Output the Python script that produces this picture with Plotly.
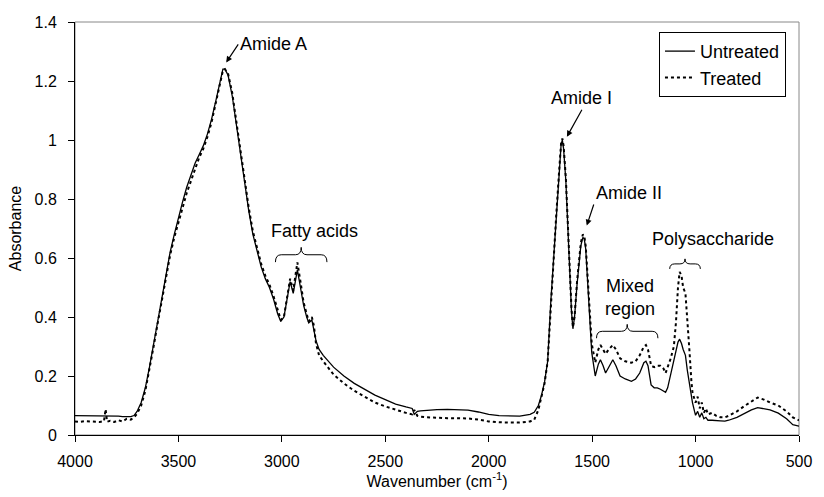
import plotly.graph_objects as go

# ---------------- data ----------------
wavenumber = [
    4000, 3980, 3950, 3920, 3900, 3880, 3860, 3852, 3845, 3830,
    3810, 3790, 3770, 3750, 3730, 3715, 3700, 3680, 3660, 3640,
    3620, 3600, 3580, 3560, 3540, 3520, 3500, 3480, 3460, 3440,
    3420, 3400, 3380, 3360, 3340, 3320, 3300, 3285, 3275, 3260,
    3240, 3220, 3200, 3180, 3160, 3140, 3120, 3100, 3080, 3060,
    3040, 3020, 3005, 2990, 2975, 2960, 2945, 2925, 2910, 2895,
    2880, 2870, 2855, 2845, 2835, 2820, 2800, 2750, 2700, 2650,
    2600, 2550, 2500, 2450, 2400, 2370, 2360, 2345, 2330, 2300,
    2250, 2200, 2150, 2100, 2050, 2000, 1950, 1900, 1850, 1800,
    1780, 1760, 1745, 1730, 1715, 1700, 1685, 1674, 1660, 1650,
    1644, 1638, 1627, 1612, 1600, 1593, 1585, 1573, 1555, 1545,
    1538, 1531, 1517, 1502, 1485, 1470, 1460, 1447, 1435, 1420,
    1400, 1385, 1365, 1340, 1310, 1290, 1270, 1250, 1240, 1230,
    1215, 1200, 1185, 1170, 1155, 1145, 1135, 1120, 1105, 1095,
    1085, 1077, 1068, 1060, 1049, 1040, 1030, 1020, 1015, 1005,
    1000, 990, 980, 970, 960, 950, 940, 920, 900, 880,
    858, 840, 800, 760, 730, 700, 670, 640, 600, 560,
    530, 510, 500,
]

untreated = [
    .066, .066, .065, .066, .065, .066, .065, .066, .065, .066,
    .065, .064, .062, .063, .062, .066, .080, .110, .160, .230,
    .31, .39, .47, .55, .62, .68, .74, .79, .84, .88,
    .92, .95, .98, 1.02, 1.07, 1.13, 1.20, 1.24, 1.24, 1.22,
    1.15, 1.05, .95, .85, .76, .68, .62, .57, .53, .50,
    .46, .41, .385, .40, .46, .52, .48, .56, .50, .44,
    .40, .38, .39, .36, .32, .29, .27, .23, .20, .175,
    .155, .135, .12, .105, .095, .09, .07, .08, .082, .084,
    .086, .087, .086, .084, .078, .07, .066, .064, .064, .07,
    .077, .10, .134, .18, .25, .45, .62, .75, .90, .985,
    1.0, .97, .86, .58, .42, .36, .40, .51, .64, .67,
    .665, .63, .46, .28, .20, .24, .255, .235, .21, .23,
    .255, .235, .20, .19, .182, .19, .21, .245, .25, .235,
    .17, .16, .16, .155, .15, .145, .16, .21, .25, .29,
    .315, .325, .31, .29, .27, .22, .17, .12, .11, .08,
    .067, .08, .06, .075, .055, .06, .05, .05, .05, .048,
    .047, .05, .06, .075, .085, .093, .09, .085, .074, .055,
    .035, .03, .03,
]

treated = [
    .046, .044, .047, .045, .046, .044, .047, .087, .045, .048,
    .044, .050, .046, .055, .052, .060, .072, .100, .150, .220,
    .30, .38, .46, .54, .61, .67, .72, .77, .82, .86,
    .90, .94, .97, 1.01, 1.06, 1.12, 1.19, 1.235, 1.24, 1.225,
    1.16, 1.06, .96, .86, .77, .69, .63, .58, .54, .51,
    .47, .42, .39, .40, .47, .53, .49, .585, .52, .45,
    .41, .385, .40, .37, .31, .27, .25, .205, .175, .15,
    .13, .11, .097, .085, .075, .07, .085, .065, .062, .06,
    .058, .057, .057, .056, .052, .046, .043, .042, .042, .046,
    .052, .085, .125, .175, .25, .44, .61, .74, .89, .99,
    1.005, .98, .87, .60, .43, .365, .40, .52, .65, .68,
    .675, .64, .48, .31, .245, .29, .305, .29, .275, .29,
    .305, .29, .26, .25, .245, .25, .27, .30, .305, .29,
    .235, .23, .235, .235, .225, .21, .23, .26, .30, .38,
    .50, .553, .54, .50, .48, .40, .29, .18, .145, .12,
    .11, .13, .09, .11, .075, .09, .07, .075, .065, .06,
    .06, .065, .08, .10, .115, .127, .12, .11, .10, .08,
    .06, .055, .05,
]

series_names = ["Untreated", "Treated"]

# plain labels (data coordinates)
label_text = ["Fatty acids", "Mixed<br>region", "Polysaccharide"]
label_x = [2844, 1316, 915]
label_y = [0.693, 0.465, 0.663]

# labels with arrows: arrow tip (data) and text offset (px)
arrow_text = ["Amide A", "Amide I", "Amide II"]
arrow_x = [3269, 1622, 1526]
arrow_y = [1.263, 1.011, 0.71]
arrow_ax = [12, 15, 7]
arrow_ay = [-18, -27, -21]
arrow_xanchor = ["left", "center", "left"]
arrow_yanchor = ["middle", "bottom", "bottom"]

# braces
brace_left = [3031, 1479, 1125]
brace_right = [2782, 1182, 977]
brace_end_y = [0.586, 0.328, 0.563]
brace_tip_y = [0.636, 0.375, 0.597]

FONT = "Liberation Sans, Arial, sans-serif"

fig = go.Figure()
fig.add_trace(go.Scatter(x=wavenumber, y=untreated, mode="lines", name=series_names[0],
                         line=dict(color="black", width=1.3)))
fig.add_trace(go.Scatter(x=wavenumber, y=treated, mode="lines", name=series_names[1],
                         line=dict(color="black", width=2, dash="dot")))

annotations = []
for t, x, y in zip(label_text, label_x, label_y):
    annotations.append(dict(x=x, y=y, xref="x", yref="y", text=t, showarrow=False,
                            xanchor="center", yanchor="middle",
                            font=dict(size=18, family=FONT, color="black")))
for t, x, y, ax, ay, xa, ya in zip(arrow_text, arrow_x, arrow_y, arrow_ax, arrow_ay,
                                   arrow_xanchor, arrow_yanchor):
    annotations.append(dict(x=x, y=y, xref="x", yref="y", text=t, showarrow=True,
                            ax=ax, ay=ay, xanchor=xa, yanchor=ya,
                            arrowhead=2, arrowsize=1, arrowwidth=1.2, arrowcolor="black",
                            font=dict(size=18, family=FONT, color="black")))

shapes = [dict(type="rect", xref="paper", yref="paper", x0=0, x1=1, y0=0, y1=1,
               line=dict(color="#888888", width=1), layer="below")]
for xl, xr, ye, yt in zip(brace_left, brace_right, brace_end_y, brace_tip_y):
    xc = (xl + xr) / 2
    ym = (ye + yt) / 2
    dx = min(28, abs(xl - xr) / 6)
    path = (f"M {xl},{ye} Q {xl},{ym} {xl - dx},{ym} L {xc + dx},{ym} "
            f"Q {xc},{ym} {xc},{yt} Q {xc},{ym} {xc - dx},{ym} "
            f"L {xr + dx},{ym} Q {xr},{ym} {xr},{ye}")
    shapes.append(dict(type="path", xref="x", yref="y", path=path,
                       line=dict(color="black", width=1)))

fig.update_layout(
    width=824, height=497,
    margin=dict(l=75, r=16, t=22, b=57),
    paper_bgcolor="white", plot_bgcolor="white",
    font=dict(family=FONT, size=16, color="black"),
    showlegend=True,
    legend=dict(x=0.982, xanchor="right", y=0.976, yanchor="top",
                bordercolor="black", borderwidth=1, bgcolor="white",
                font=dict(size=18, family=FONT), itemwidth=30, tracegroupgap=0),
    annotations=annotations,
    shapes=shapes,
)
fig.update_xaxes(range=[4000, 500], tick0=500, dtick=500, ticks="outside", ticklen=6,
                 tickcolor="black", showline=True, linecolor="black", linewidth=1,
                 showgrid=False, zeroline=False, ticklabelstandoff=6,
                 title=dict(text="Wavenumber (cm<sup>-1</sup>)", standoff=4,
                            font=dict(size=16, family=FONT)))
fig.update_yaxes(range=[0, 1.4], tick0=0, dtick=0.2, ticks="outside", ticklen=6,
                 tickcolor="black", showline=True, linecolor="black", linewidth=1,
                 showgrid=False, zeroline=False, ticklabelstandoff=8,
                 title=dict(text="Absorbance", standoff=8,
                            font=dict(size=16, family=FONT)))

fig.write_html("out.html")
